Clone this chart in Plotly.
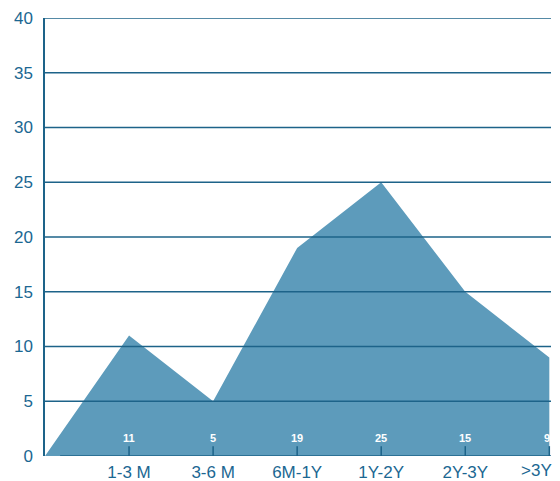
import plotly.graph_objects as go

categories = ["1-3 M", "3-6 M", "6M-1Y", "1Y-2Y", "2Y-3Y", ">3Y"]
values = [11, 5, 19, 25, 15, 9]
y_ticks = [0, 5, 10, 15, 20, 25, 30, 35, 40]

xs = list(range(0, len(categories) + 1))
ys = [0] + values

TEXT = "#1b6792"
LINE = "#1d6389"
FILL = "#5d9bbb"
FONT = "Liberation Sans, Arial, sans-serif"
TICK_LEN = 0.9  # tick mark length in y-axis units (~10 px)

fig = go.Figure()
fig.add_trace(go.Scatter(x=xs, y=ys, mode="lines", fill="tozeroy",
                         line=dict(width=0, color=FILL), fillcolor=FILL,
                         hoverinfo="skip", showlegend=False))

for i, v in enumerate(values):
    last = i == len(values) - 1
    fig.add_annotation(x=i + 1, y=0, yref="y", text="<b>%d</b>" % v, showarrow=False,
                       yshift=18, xanchor="right" if last else "center",
                       xshift=3 if last else 0,
                       font=dict(size=11, color="white", family=FONT))
    # tick mark pointing up from the baseline
    fig.add_shape(type="line", xref="x", x0=i + 1, x1=i + 1, yref="y",
                  y0=0, y1=TICK_LEN,
                  line=dict(color=LINE, width=1.5), layer="above")

for t in y_ticks[1:]:
    fig.add_shape(type="line", xref="paper", x0=0, x1=1, yref="y", y0=t, y1=t,
                  line=dict(color=LINE, width=1.3), layer="above")

fig.add_shape(type="line", xref="x", x0=0.18, x1=6.02, yref="y", y0=0, y1=0,
              line=dict(color=LINE, width=1.3), layer="above")

# last category label placed inside the page (it would overflow otherwise)
fig.add_annotation(x=1, xref="paper", xanchor="right", y=0, yref="y", yanchor="top",
                   xshift=3, yshift=-3, text=categories[-1], showarrow=False,
                   font=dict(size=17, color=TEXT, family=FONT))

fig.update_layout(
    width=560, height=481,
    margin=dict(l=45, r=9, t=18, b=25),
    paper_bgcolor="white", plot_bgcolor="white",
    font=dict(family=FONT, color=TEXT, size=17),
    xaxis=dict(range=[0, 6.02], tickvals=list(range(1, len(categories) + 1)),
               ticktext=categories[:-1] + [""], showgrid=False, zeroline=False, showline=False,
               ticks="", ticklabelstandoff=4, automargin=False,
               tickfont=dict(size=17, color=TEXT), fixedrange=True),
    yaxis=dict(range=[0, 40], tickvals=y_ticks, showgrid=False, zeroline=False,
               showline=True, linecolor=LINE, linewidth=1.5, automargin=False,
               layer="above traces",
               ticks="", tickfont=dict(size=17, color=TEXT), ticklabelstandoff=7,
               fixedrange=True),
)

fig.write_html("out.html")
